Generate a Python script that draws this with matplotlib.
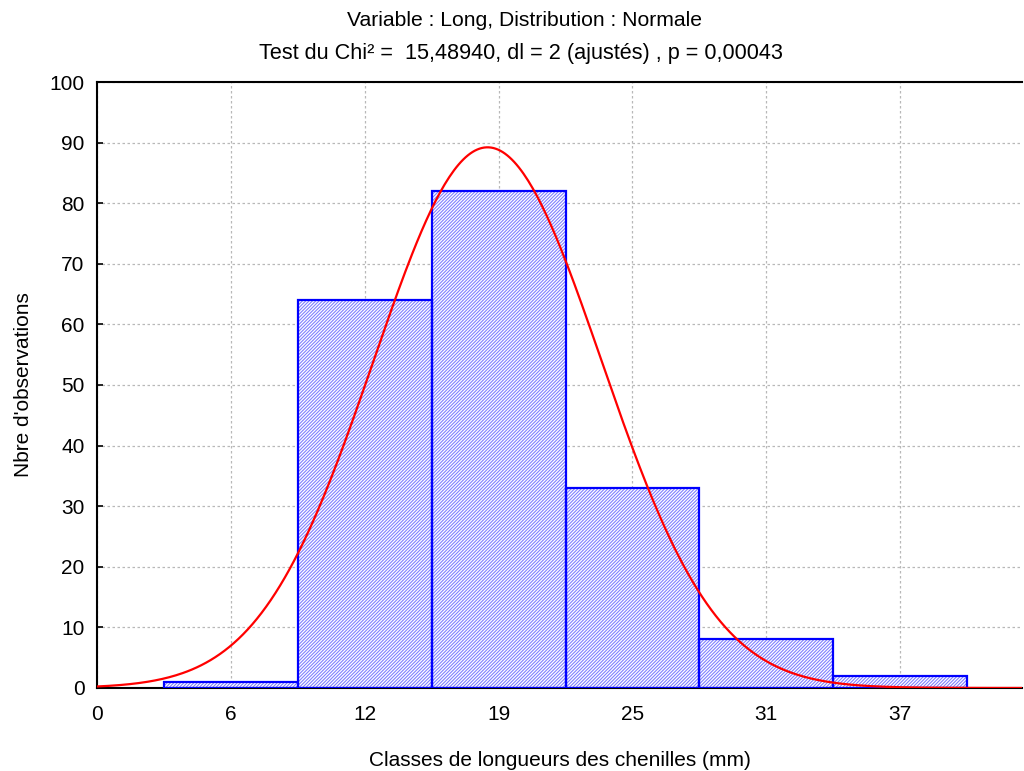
import numpy as np
import matplotlib
matplotlib.use("Agg")
import matplotlib.pyplot as plt

plt.rcParams['font.family'] = ['Liberation Sans', 'DejaVu Sans']
plt.rcParams['hatch.linewidth'] = 0.8

# class width (mm) and observed counts
class_width = 6.18
class_index = [1, 2, 3, 4, 5, 6]
counts = [1, 64, 82, 33, 8, 2]
tick_labels = ["0", "6", "12", "19", "25", "31", "37"]

# fitted normal
mu = 18.03
sigma = 5.25

centers = np.array(class_index) * class_width
n_total = sum(counts)

fig = plt.figure(figsize=(10.24, 7.71), dpi=100)
ax = fig.add_axes([0.0947, 0.1077, 0.9033, 0.7859])

ax.bar(centers, counts, width=class_width, facecolor='white',
       edgecolor='#8080ff', hatch='//////////', linewidth=0, zorder=2)
ax.bar(centers, counts, width=class_width, fill=False,
       edgecolor='#0000ff', linewidth=1.6, zorder=3)

xs = np.linspace(0, 42.7, 400)
ys = n_total * class_width / (sigma * np.sqrt(2 * np.pi)) * np.exp(-0.5 * ((xs - mu) / sigma) ** 2)
ax.plot(xs, ys, color='#ff0000', linewidth=1.6, zorder=4)

ax.set_xlim(0, 42.7)
ax.set_ylim(0, 100)
ax.set_xticks(np.arange(len(tick_labels)) * class_width)
ax.set_xticklabels(tick_labels)
ax.set_yticks(np.arange(0, 101, 10))
ax.tick_params(direction='in', length=4, width=1.2, labelsize=15)
ax.tick_params(axis='x', pad=12)
ax.tick_params(axis='y', pad=9)
ax.grid(True, color='#b8b8b8', linestyle=(0, (2, 2)), linewidth=0.9, zorder=0)
ax.set_axisbelow(True)

ax.spines['right'].set_visible(False)
for s in ['left', 'top', 'bottom']:
    ax.spines[s].set_linewidth(1.5)

ax.set_xlabel("Classes de longueurs des chenilles (mm)", fontsize=15, labelpad=20)
ax.set_ylabel("Nbre d'observations", fontsize=15, labelpad=12)

fig.text(0.512, 0.974, "Variable : Long, Distribution : Normale", ha='center', va='center', fontsize=15.2)
fig.text(0.509, 0.930, "Test du Chi² =  15,48940, dl = 2 (ajustés) , p = 0,00043",
         ha='center', va='center', fontsize=15.6)

fig.savefig("out.png", dpi=100)
